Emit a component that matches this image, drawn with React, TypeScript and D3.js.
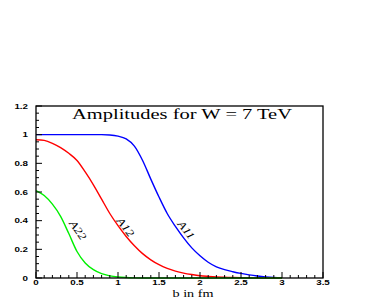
import React from "react";
import * as d3 from "d3";

const bValues = [0, 0.1, 0.2, 0.3, 0.4, 0.5, 0.6, 0.7, 0.8, 0.9, 1.0, 1.1, 1.2, 1.3, 1.4, 1.5, 1.6, 1.7, 1.8, 1.9, 2.0, 2.1, 2.2, 2.3, 2.4, 2.5, 2.6, 2.7, 2.8, 2.9, 3.0];
const a11 = [1.0, 1.0, 1.0, 1.0, 1.0, 1.0, 1.0, 1.0, 1.0, 0.998, 0.99, 0.97, 0.92, 0.82, 0.69, 0.565, 0.45, 0.36, 0.28, 0.21, 0.155, 0.11, 0.078, 0.058, 0.044, 0.032, 0.022, 0.014, 0.008, 0.004, 0.002];
const a12 = [0.965, 0.96, 0.94, 0.91, 0.87, 0.82, 0.74, 0.65, 0.55, 0.45, 0.365, 0.29, 0.225, 0.17, 0.127, 0.093, 0.067, 0.048, 0.034, 0.024, 0.016, 0.011, 0.007, 0.005, 0.003, 0.002, 0.001, 0.001, 0, 0, 0];
const a22 = [0.61, 0.575, 0.515, 0.43, 0.31, 0.185, 0.105, 0.058, 0.03, 0.015, 0.007, 0.003, 0.001, 0, 0, 0, 0, 0, 0, 0, 0, 0, 0, 0, 0, 0, 0, 0, 0, 0, 0];

const seriesNames = ["A11", "A12", "A22"];
const seriesColors = ["#0000ff", "#ff0000", "#00f000"];
const xTickLabels = ["0", "0.5", "1", "1.5", "2", "2.5", "3", "3.5"];
const yTickLabels = ["0", "0.2", "0.4", "0.6", "0.8", "1", "1.2"];
const title = "Amplitudes for W = 7 TeV";
const xTitle = "b in fm";

const SERIF = "'Liberation Serif', 'DejaVu Serif', 'Times New Roman', serif";
const SANS = "'Liberation Sans', Arial, sans-serif";

export default function App() {
  const W = 388, H = 300;
  const L = 36, R = 323, T = 106, B = 278;
  const x = d3.scaleLinear().domain([0, 3.5]).range([L, R]);
  const y = d3.scaleLinear().domain([0, 1.2]).range([B, T]);
  const series = [a11, a12, a22];
  const line = d3
    .line<number>()
    .x((_, i) => x(bValues[i]))
    .y((d) => y(d))
    .curve(d3.curveMonotoneX);

  const xMinor = d3.range(0, 35.01, 1).map((v) => v / 10);
  const yMinor = d3.range(0, 24.01, 1).map((v) => v / 20);

  const labelPos = [
    { b: 1.82, v: 0.33, rot: 52 },
    { b: 1.08, v: 0.35, rot: 52 },
    { b: 0.5, v: 0.33, rot: 55 },
  ];

  return (
    <svg width={W} height={H} style={{ position: "absolute", left: 0, top: 0, background: "#fff" }}>
      <rect x={0} y={0} width={W} height={H} fill="#fff" />
      {series.map((s, k) => (
        <path key={k} d={line(s) || ""} fill="none" stroke={seriesColors[k]} strokeWidth={1.4} />
      ))}
      <rect x={L} y={T} width={R - L} height={B - T} fill="none" stroke="#000" strokeWidth={1.3} />
      {xMinor.map((v, i) => {
        const major = i % 5 === 0;
        return <line key={"xt" + i} x1={x(v)} x2={x(v)} y1={B} y2={B - (major ? 6 : 3)} stroke="#000" strokeWidth={1} />;
      })}
      {yMinor.map((v, i) => {
        const major = i % 4 === 0;
        return <line key={"yt" + i} x1={L} x2={L + (major ? 6 : 3)} y1={y(v)} y2={y(v)} stroke="#000" strokeWidth={1} />;
      })}
      {xTickLabels.map((t, i) => (
        <text
          key={"xl" + i}
          transform={`translate(${x(+t)},${285.3}) scale(1.4,1)`}
          textAnchor="middle"
          fontFamily={SANS}
          fontWeight="bold"
          fontSize={7}
        >
          {t}
        </text>
      ))}
      {yTickLabels.map((t, i) => (
        <text
          key={"yl" + i}
          transform={`translate(${28},${y(+t) + 2.6}) scale(1.4,1)`}
          textAnchor="end"
          fontFamily={SANS}
          fontWeight="bold"
          fontSize={7}
        >
          {t}
        </text>
      ))}
      <text
        x={72}
        y={118.5}
        textLength={220}
        lengthAdjust="spacingAndGlyphs"
        fontFamily={SERIF}
        fontSize={14}
      >
        {title}
      </text>
      <text
        transform={`translate(${193},${297}) scale(1.35,1)`}
        textAnchor="middle"
        fontFamily={SERIF}
        fontSize={10.5}
      >
        {xTitle}
      </text>
      {seriesNames.map((n, k) => (
        <text
          key={"lab" + k}
          transform={`translate(${x(labelPos[k].b)},${y(labelPos[k].v)}) rotate(${labelPos[k].rot}) scale(1.2,1)`}
          textAnchor="middle"
          dominantBaseline="middle"
          fontFamily={SERIF}
          fontStyle="italic"
          fontSize={11}
        >
          {n}
        </text>
      ))}
    </svg>
  );
}
